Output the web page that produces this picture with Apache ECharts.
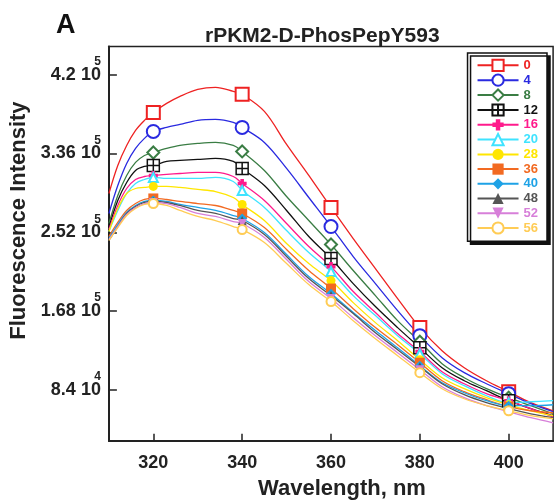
<!DOCTYPE html>
<html><head><meta charset="utf-8">
<script src="https://cdn.jsdelivr.net/npm/echarts@6/dist/echarts.min.js"></script>
<style>html,body{margin:0;padding:0;background:#fff}#c{width:555px;height:500px}</style>
</head><body><div id="c"></div>
<script>
// ---- data ----
const wavelengths = [310,312,314,316,318,320,323,326,330,334,338,340,345,350,355,360,365,370,375,380,385,390,395,400,405,410];
const markerWavelengths = [320,340,360,380,400];
const seriesNames = ['0','4','8','12','16','20','28','36','40','48','52','56'];
const s0  = [293400,323300,344600,360600,371300,379800,389400,396900,404300,406500,402200,399000,380900,345700,312600,278500,245400,213400,181400,150500,125900,107800,93900,82200,70500,61900];
const s4  = [272100,301900,325400,341400,352100,359500,363800,367000,371300,372300,369100,363800,347800,320100,289100,258200,226200,197400,168600,141900,118500,102500,90700,80100,69400,60900];
const s8  = [261400,291300,312600,326500,333900,337100,341400,344600,346700,347800,344600,338200,317900,290200,264600,239000,211300,184600,157900,135500,112100,97100,85400,75800,67300,58700];
const s12 = [257100,285900,305100,317900,322200,323300,327500,328600,329700,330700,327500,320100,301900,275300,247500,224100,197400,172900,150500,129100,107800,93900,83300,72600,64100,56600];
const s16 = [255000,280600,298700,308300,311500,312600,313700,314700,315800,315800,311500,304100,285900,261400,236900,215500,188900,166500,144100,124900,103500,90700,80100,72600,64100,55500];
const s20 = [252900,275300,293400,304100,308300,310500,309400,309400,309400,310500,306200,296600,278500,253900,230500,210200,184600,163300,141900,122700,101400,88600,77900,70500,71500,72600];
const s28 = [252900,277400,293400,298700,299800,300900,300900,299800,297700,295500,289100,281700,264600,240100,218700,200600,177100,155800,136600,116300,97100,85400,75800,68300,61900,56600];
const s36 = [247500,262500,275300,282700,287000,288100,287000,284900,282700,280600,275300,272100,257100,233700,211300,192100,170700,150500,132300,113100,93900,82200,73700,66200,61900,59800];
const s40 = [245400,260300,273100,280600,284900,285900,284900,281700,278500,275300,269900,266700,251800,228300,204900,186700,166500,147300,129100,109900,91800,81100,72600,67300,67300,68300];
const s48 = [243300,258200,272100,279500,283800,284900,283800,280600,275300,272100,266700,264600,249700,226200,202700,184600,165400,145100,127000,108900,90700,79000,70500,64100,58700,54500];
const s52 = [244300,258200,271000,278500,282700,283800,282700,278500,272100,268900,263500,261400,246500,223000,199500,181400,161100,141900,123800,105700,87500,75800,67300,60900,54500,49100];
const s56 = [243300,257100,269900,277400,281700,282700,280600,275300,268900,264600,258200,255000,241100,218700,196300,178200,157900,138700,120600,102500,85400,74700,67300,61900,56600,53400];
const seriesValues = [s0,s4,s8,s12,s16,s20,s28,s36,s40,s48,s52,s56];
const xTicks = [320,340,360,380,400];
const yTicks = [84000,168000,252000,336000,420000];
const yTickMantissa = ['8.4','1.68','2.52','3.36','4.2'];
const yTickExponent = ['4','5','5','5','5'];
const chartTitle = 'rPKM2-D-PhosPepY593';
const panelLabel = 'A';
const xName = 'Wavelength, nm';
const yName = 'Fluorescence Intensity';

// ---- styles ----
const FONT = '"Liberation Sans", Arial, sans-serif';
const colors = ['#ee2222','#2a2ae0','#3a7d44','#111111','#ff1a8c','#3fe3ff','#ffe600','#f26a22','#1ea2e6','#555555','#d77fd9','#ffcc55'];
const symbols = ['emptyRect','emptyCircle','emptyDiamond',
  'path://M0,0H10V10H0Z M5,0V10 M0,5H10',
  'path://M3,0H7V3H10V7H7V10H3V7H0V3H3Z',
  'emptyTriangle','circle','rect','diamond','triangle','triangle','emptyCircle'];
const symbolSizes = [13,13,12,12,9,9,9,10,10,9,9,9];
const symbolRotates = [0,0,0,0,0,0,0,0,0,0,180,0];

const series = seriesNames.map((name, k) => {
  const isGrid = k === 3;
  return {
    name, type: 'line', smooth: 0.35, showAllSymbol: true,
    symbol: symbols[k], symbolSize: symbolSizes[k], symbolRotate: symbolRotates[k],
    lineStyle: { color: colors[k], width: 1.3 },
    itemStyle: isGrid ? { color: '#fff', borderColor: colors[k], borderWidth: 1.5 } : { color: colors[k] },
    emphasis: { disabled: true },
    data: wavelengths.map((w, i) => markerWavelengths.indexOf(w) >= 0
      ? [w, seriesValues[k][i]]
      : { value: [w, seriesValues[k][i]], symbol: 'none' })
  };
});

const chart = echarts.init(document.getElementById('c'), null, { renderer: 'canvas' });
chart.setOption({
  animation: false,
  backgroundColor: '#fff',
  title: [
    { text: panelLabel, left: 56, top: 12, padding: 0, textStyle: { fontFamily: FONT, fontSize: 27, fontWeight: 'bold', color: '#111' } },
    { text: chartTitle, left: 205, top: 26, padding: 0, textStyle: { fontFamily: FONT, fontSize: 21, fontWeight: 'bold', color: '#222' } }
  ],
  legend: {
    orient: 'vertical', right: 8, top: 53,
    padding: [5.7, 9, 6.6, 9],
    itemWidth: 41, itemHeight: 14, itemGap: 1.7,
    backgroundColor: '#fff', borderColor: '#111', borderWidth: 1.5,
    shadowColor: '#111', shadowBlur: 0, shadowOffsetX: 3, shadowOffsetY: 3,
    textStyle: { fontFamily: FONT, fontSize: 13, fontWeight: 'bold' },
    data: seriesNames.map((n, k) => ({ name: n, textStyle: { color: colors[k] } }))
  },
  grid: { left: 108.9, right: 1.9, top: 46.5, bottom: 59.3, containLabel: false, outerBoundsMode: 'none',
          show: true, borderColor: '#222', borderWidth: 1.5 },
  xAxis: {
    type: 'value', min: 310, max: 410,
    name: xName, nameLocation: 'middle', nameGap: 37,
    nameTextStyle: { fontFamily: FONT, fontSize: 22, fontWeight: 'bold', color: '#222', padding: [0, 0, 0, 22] },
    axisLine: { show: true, lineStyle: { color: '#222', width: 2 } },
    axisTick: { show: true, inside: true, length: 7, customValues: xTicks, lineStyle: { color: '#222', width: 1.5 } },
    axisLabel: { customValues: xTicks, margin: 13, fontFamily: FONT, fontSize: 18, fontWeight: 'bold', color: '#222' },
    splitLine: { show: false }
  },
  yAxis: {
    type: 'value', min: 30000, max: 450000,
    name: yName, nameLocation: 'middle', nameGap: 74, nameRotate: 90,
    nameTextStyle: { fontFamily: FONT, fontSize: 22, fontWeight: 'bold', color: '#222', padding: [0, 0, 0, 46] },
    axisLine: { show: true, lineStyle: { color: '#222', width: 2 } },
    axisTick: { show: true, inside: true, length: 8, customValues: yTicks, lineStyle: { color: '#222', width: 1.5 } },
    axisLabel: {
      customValues: yTicks, margin: 8, align: 'right',
      formatter: (v) => {
        const i = yTicks.indexOf(v);
        if (i < 0) return '';
        return '{e|' + yTickExponent[i] + '}\n{m|' + yTickMantissa[i] + ' 10}\n{e| }';
      },
      rich: {
        e: { fontFamily: FONT, fontSize: 12, fontWeight: 'bold', color: '#222', lineHeight: 10, align: 'right' },
        m: { fontFamily: FONT, fontSize: 18, fontWeight: 'bold', color: '#222', lineHeight: 16, align: 'right' }
      }
    },
    splitLine: { show: false }
  },
  series
});
</script>
</body></html>
